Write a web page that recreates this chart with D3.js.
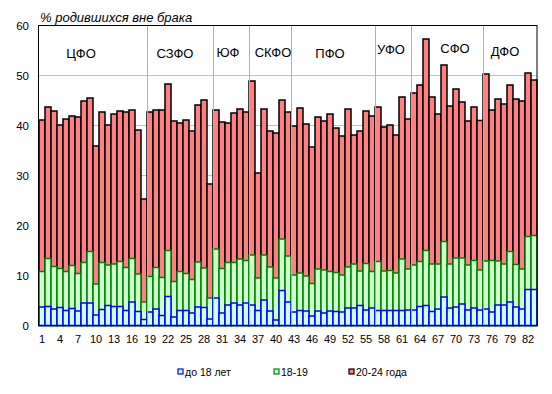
<!DOCTYPE html>
<html>
<head>
<meta charset="utf-8">
<script src="https://cdn.jsdelivr.net/npm/d3@7"></script>
<style>
  body { margin: 0; background: #fff; }
  text { font-family: "Liberation Sans", Arial, sans-serif; fill: #000; }
</style>
</head>
<body>
<div id="chart"></div>
<script>
// regions numbered 1..83
var regions = d3.range(1, 84);
var xTickLabels = d3.range(1, 84, 3);
var yTicks = [0, 10, 20, 30, 40, 50, 60];

// federal districts and how many regions each has
var districts = ["ЦФО", "СЗФО", "ЮФ", "СКФО", "ПФО", "УФО", "СФО", "ДФО"];
var districtSizes = [18, 11, 6, 7, 14, 6, 12, 9];

var seriesNames = ["до 18 лет", "18-19", "20-24 года"];

// % born out of wedlock, by mother's age
var under18 = [3.7, 3.8, 3.3, 3.6, 3.0, 3.4, 2.9, 4.5, 4.5, 2.1, 3.2, 4.0, 3.8, 3.8, 3.0, 4.7, 2.8, 1.2,
  2.7, 3.3, 2.0, 5.8, 1.7, 3.0, 3.0, 2.5, 3.7, 3.6, 1.3,
  5.5, 2.5, 4.1, 4.5, 4.1, 4.5,
  4.1, 3.0, 5.1, 2.9, 1.1, 7.0, 4.7,
  2.7, 3.0, 2.9, 1.9, 2.9, 2.5, 2.9, 2.8, 2.7, 3.5, 3.5, 4.0, 3.1, 3.5,
  3.0, 3.0, 3.0, 3.0, 3.0, 3.1,
  3.1, 3.8, 4.0, 2.8, 3.3, 5.7, 3.5, 3.7, 4.3, 3.1, 3.5, 3.1,
  3.3, 2.7, 4.1, 4.1, 4.7, 3.7, 3.3, 7.2, 7.2];
var age18_19 = [10.8, 13.4, 11.8, 11.4, 10.8, 12.0, 10.4, 12.6, 14.8, 8.3, 12.6, 12.1, 12.3, 12.8, 11.6, 13.4, 10.3, 4.7,
  9.8, 11.6, 9.6, 15.0, 8.8, 10.8, 10.4, 9.2, 12.7, 11.5, 5.5,
  15.3, 11.4, 12.6, 12.6, 13.3, 13.0,
  14.1, 9.5, 14.1, 11.7, 9.5, 17.3, 13.9,
  10.1, 10.5, 9.9, 8.4, 11.3, 11.1, 10.8, 10.6, 10.1, 11.7, 12.3, 10.9, 12.4, 10.8,
  12.8, 10.9, 11.0, 10.5, 13.3, 11.3,
  12.1, 12.8, 15.0, 12.3, 12.3, 16.8, 12.3, 13.5, 13.5, 12.1, 13.0, 11.1,
  12.9, 13.0, 12.9, 12.3, 14.8, 12.2, 11.3, 17.8, 18.0];
var age20_24 = [41.1, 43.7, 42.9, 40.1, 41.3, 41.9, 41.7, 44.9, 45.5, 35.9, 42.7, 40.1, 42.3, 42.9, 42.7, 43.1, 39.1, 25.3,
  42.7, 43.1, 43.1, 48.3, 40.9, 40.5, 41.1, 38.9, 44.1, 45.1, 28.3,
  43.1, 40.7, 40.5, 42.5, 43.3, 42.7,
  48.9, 30.5, 43.3, 38.9, 38.5, 45.1, 42.7,
  39.9, 43.5, 40.3, 35.7, 41.7, 40.9, 42.3, 39.5, 37.9, 43.3, 38.1, 38.9, 42.9, 41.9,
  43.7, 39.7, 40.1, 38.1, 45.7, 41.3,
  46.5, 48.1, 57.3, 45.7, 42.3, 52.1, 43.9, 47.3, 44.7, 40.9, 43.7, 41.0,
  50.3, 43.1, 45.3, 44.3, 48.1, 45.3, 44.9, 50.5, 49.1];

var W = 552, H = 394;
var plot = { left: 39, right: 537, top: 25.5, bottom: 325.5 };

var svg = d3.select("#chart").append("svg")
    .attr("width", W)
    .attr("height", H);

var x = d3.scaleBand()
    .domain(regions)
    .range([plot.left, plot.right])
    .padding(0);
var y = d3.scaleLinear()
    .domain([0, 60])
    .range([plot.bottom, plot.top]);

// horizontal grid
svg.append("g").selectAll("line")
    .data(yTicks.filter(function(d) { return d > 0 && d < 60; }))
    .enter().append("line")
    .attr("x1", plot.left).attr("x2", plot.right)
    .attr("y1", function(d) { return y(d); })
    .attr("y2", function(d) { return y(d); })
    .attr("stroke", "#c0c0c0")
    .attr("stroke-width", 1);

// bars overlap, tallest first
var series = [
  { values: age20_24, fill: "#ff8080", stroke: "#000000" },
  { values: age18_19, fill: "#ccffcc", stroke: "#008000" },
  { values: under18, fill: "#ccffff", stroke: "#0000ff" }
];

series.forEach(function(s) {
  svg.append("g").selectAll("rect")
      .data(s.values)
      .enter().append("rect")
      .attr("x", function(d, i) { return x(regions[i]); })
      .attr("width", x.bandwidth())
      .attr("y", function(d) { return y(d); })
      .attr("height", function(d) { return y(0) - y(d); })
      .attr("fill", s.fill)
      .attr("stroke", s.stroke)
      .attr("stroke-width", 1.5);
});

// district separators
var cum = 0;
var bounds = [];
districtSizes.forEach(function(n, i) {
  bounds.push({ start: cum, end: cum + n, name: districts[i] });
  cum += n;
});

svg.append("g").selectAll("line")
    .data(bounds.slice(0, -1))
    .enter().append("line")
    .attr("x1", function(d) { return x(regions[d.end - 1]) + x.bandwidth() + 0.5; })
    .attr("x2", function(d) { return x(regions[d.end - 1]) + x.bandwidth() + 0.5; })
    .attr("y1", plot.top)
    .attr("y2", plot.bottom)
    .attr("stroke", "#b0b0b0")
    .attr("stroke-width", 1);

// frame
svg.append("rect")
    .attr("x", plot.left - 0.5)
    .attr("y", plot.top)
    .attr("width", plot.right - plot.left + 0.5)
    .attr("height", plot.bottom - plot.top)
    .attr("fill", "none")
    .attr("stroke", "#000")
    .attr("stroke-width", 1);

// district names (small nudges so they sit like the original)
var nudge = [[-12, 0], [-5, 0], [-3, -1], [3, -1], [-3, 0], [-2, -4], [8, -5], [-5, -2]];
svg.append("g").selectAll("text")
    .data(bounds)
    .enter().append("text")
    .attr("x", function(d, i) {
      var a = x(regions[d.start]), b = x(regions[d.end - 1]) + x.bandwidth();
      return (a + b) / 2 + nudge[i][0];
    })
    .attr("y", function(d, i) { return 58 + nudge[i][1]; })
    .attr("text-anchor", "middle")
    .style("font-size", "13px")
    .text(function(d) { return d.name; });

// y axis labels
var yAxis = d3.axisLeft(y).tickValues(yTicks).tickSize(0).tickPadding(10);
svg.append("g")
    .attr("transform", "translate(" + plot.left + ",0)")
    .call(yAxis)
    .call(function(g) { g.select(".domain").remove(); })
    .selectAll("text")
    .style("font-family", "'Liberation Sans', Arial, sans-serif")
    .style("font-size", "11.5px")
    .attr("fill", "#000");

// x axis labels
var xAxis = d3.axisBottom(x).tickValues(xTickLabels).tickSize(0).tickPadding(10);
svg.append("g")
    .attr("transform", "translate(0," + plot.bottom + ")")
    .call(xAxis)
    .call(function(g) { g.select(".domain").remove(); })
    .selectAll("text")
    .style("font-family", "'Liberation Sans', Arial, sans-serif")
    .style("font-size", "11px")
    .attr("fill", "#000");

// title
svg.append("text")
    .attr("x", 40)
    .attr("y", 22)
    .style("font-size", "13px")
    .style("font-style", "italic")
    .text("% родившихся вне брака");

// legend
var legendX = [178, 274, 349];
var legend = svg.append("g").selectAll("g")
    .data(seriesNames)
    .enter().append("g")
    .attr("transform", function(d, i) { return "translate(" + legendX[i] + ",369)"; });
var legendSeries = [series[2], series[1], series[0]];
legend.append("rect")
    .attr("width", 5).attr("height", 5)
    .attr("fill", function(d, i) { return legendSeries[i].fill; })
    .attr("stroke", function(d, i) { return legendSeries[i].stroke; })
    .attr("stroke-width", 1.2);
legend.append("text")
    .attr("x", 7)
    .attr("y", 7)
    .style("font-size", "10.5px")
    .text(function(d) { return d; });
</script>
</body>
</html>
